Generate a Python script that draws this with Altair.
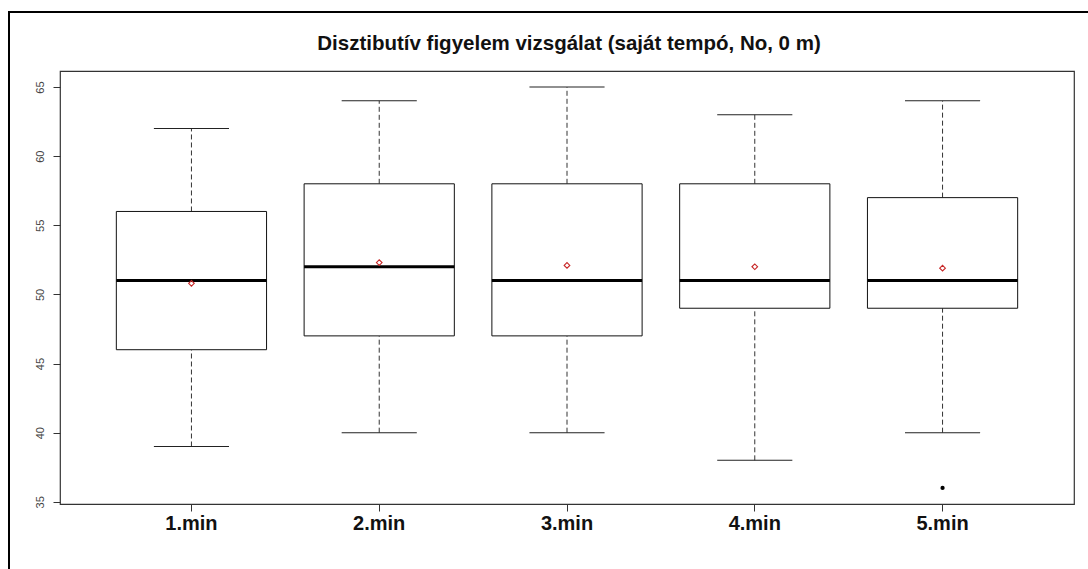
import altair as alt
import pandas as pd

categories = ["1.min", "2.min", "3.min", "4.min", "5.min"]
lower = [39, 40, 40, 38, 40]
q1 = [46, 47, 47, 49, 49]
median = [51, 52, 51, 51, 51]
q3 = [56, 58, 58, 58, 57]
upper = [62, 64, 65, 63, 64]
mean = [50.8, 52.3, 52.1, 52.0, 51.9]
outlier_cat = ["5.min"]
outlier_val = [36]
y_ticks = [35, 40, 45, 50, 55, 60, 65]
title = "Disztibutív figyelem vizsgálat (saját tempó, No, 0 m)"

W, H = 1014, 433
step = W / 5.4

df = pd.DataFrame({"cat": categories, "lower": lower, "q1": q1, "median": median,
                   "q3": q3, "upper": upper, "mean": mean})
dfo = pd.DataFrame({"cat": outlier_cat, "val": outlier_val})
dft = pd.DataFrame({"t": [title]})

FONT = "Liberation Sans"

xenc = alt.X("cat:N", sort=categories,
             scale=alt.Scale(paddingInner=0.2, paddingOuter=0.3),
             axis=alt.Axis(title=None, labelAngle=0, labelFontSize=20, labelFontWeight="bold",
                           labelFont=FONT, labelColor="#111", tickColor="#333", tickSize=7,
                           labelPadding=2, domain=False, ticks=True, grid=False))
yscale = alt.Scale(domain=[34.84, 66.16], nice=False, zero=False)
yaxis = alt.Axis(title=None, values=y_ticks, labelAngle=270, labelFontSize=11, labelFont=FONT,
                 labelColor="#444", tickColor="#333", tickSize=7, domain=False, grid=False,
                 labelAlign="center", labelBaseline="bottom", labelPadding=8)

base = alt.Chart(df)

w_low = base.mark_rule(color="#333", strokeDash=[5, 3], strokeWidth=1).encode(
    x=xenc, y=alt.Y("lower:Q", scale=yscale, axis=yaxis), y2="q1:Q")
w_up = base.mark_rule(color="#333", strokeDash=[5, 3], strokeWidth=1).encode(
    x=xenc, y=alt.Y("q3:Q", scale=yscale), y2="upper:Q")
box = base.mark_bar(fill="white", stroke="#111", strokeWidth=1).encode(
    x=xenc, y=alt.Y("q1:Q", scale=yscale), y2="q3:Q")
med = base.mark_tick(color="black", thickness=3, size=step * 0.8, opacity=1).encode(
    x=xenc, y=alt.Y("median:Q", scale=yscale))
cap_low = base.mark_tick(color="#222", thickness=1, size=step * 0.4, opacity=1).encode(
    x=xenc, y=alt.Y("lower:Q", scale=yscale))
cap_up = base.mark_tick(color="#222", thickness=1, size=step * 0.4, opacity=1).encode(
    x=xenc, y=alt.Y("upper:Q", scale=yscale))
mn = base.mark_point(shape="diamond", color="#c82828", filled=False, size=32, strokeWidth=1.1,
                     opacity=1).encode(
    x=xenc, y=alt.Y("mean:Q", scale=yscale))
out = alt.Chart(dfo).mark_point(shape="circle", color="black", filled=True, size=18, opacity=1).encode(
    x=xenc, y=alt.Y("val:Q", scale=yscale))

border = alt.Chart(pd.DataFrame({"a": [0]})).mark_rect(
    fill=None, stroke="black", strokeWidth=2, clip=False).encode(
    x=alt.value(-51), x2=alt.value(1088 - 60 + 20), y=alt.value(-59), y2=alt.value(600))

ttl = alt.Chart(dft).mark_text(font=FONT, fontSize=20.5, fontWeight="bold", color="#111",
                               align="center", baseline="alphabetic", clip=False).encode(
    text="t:N", x=alt.value(W / 2 + 2), y=alt.value(-21))

chart = alt.layer(border, w_low, w_up, box, med, cap_low, cap_up, mn, out, ttl).properties(
    width=W, height=H,
    autosize=alt.AutoSizeParams(type="none"),
    padding={"left": 60, "top": 71, "right": 14, "bottom": 65},
    background="white",
).configure_view(stroke="#333", strokeWidth=1.2)

chart.save("out.html", embed_options={"renderer": "svg", "actions": False})
